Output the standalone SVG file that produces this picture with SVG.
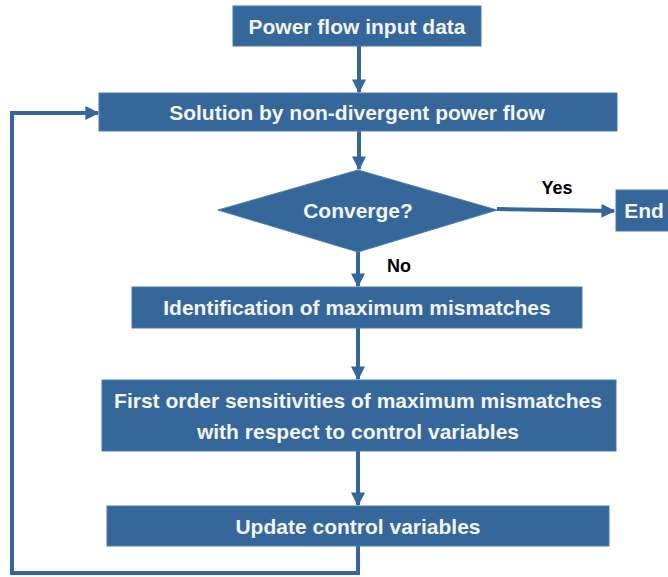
<svg xmlns="http://www.w3.org/2000/svg" width="668" height="577" viewBox="0 0 668 577">
<defs>
<style>
.box{fill:#35679a;stroke:#4a7bb0;stroke-width:1}
.t{font-family:"Liberation Sans",Arial,sans-serif;font-weight:bold;font-size:21px;fill:#f4f4f4;text-anchor:middle;dominant-baseline:central}
.lbl{font-family:"Liberation Sans",Arial,sans-serif;font-weight:bold;font-size:18px;fill:#000;text-anchor:middle;dominant-baseline:central}
.c{fill:none;stroke:#35679a;stroke-width:4}
</style>
<marker id="ah" viewBox="0 0 10 10" refX="9" refY="5" markerWidth="3.5" markerHeight="3.5" markerUnits="strokeWidth" orient="auto">
<path d="M0,0 L10,5 L0,10 Z" fill="#35679a"/>
</marker>
</defs>
<g id="connectors">
<path class="c" d="M359,46 V92" marker-end="url(#ah)"/>
<path class="c" d="M359,131 V169" marker-end="url(#ah)"/>
<path class="c" d="M497,209 L614,211" marker-end="url(#ah)"/>
<path class="c" d="M358,252 V286" marker-end="url(#ah)"/>
<path class="c" d="M358,328 V379" marker-end="url(#ah)"/>
<path class="c" d="M358,451 V505" marker-end="url(#ah)"/>
<path class="c" d="M358,546 V573 H12 V113 H98" marker-end="url(#ah)"/>
</g>
<g id="n1"><rect class="box" x="233" y="6" width="248" height="40"/><text class="t" x="357" y="26">Power flow input data</text></g>
<g id="n2"><rect class="box" x="99" y="93" width="518" height="38"/><text class="t" x="357" y="112">Solution by non-divergent power flow</text></g>
<g id="n3"><polygon class="box" points="358,170 497,210 358,252 218,210"/><text class="t" x="358" y="210">Converge?</text></g>
<g id="n4"><rect class="box" x="616" y="190" width="56" height="41"/><text class="t" x="644" y="210">End</text></g>
<g id="n5"><rect class="box" x="132" y="287" width="450" height="41"/><text class="t" x="357" y="307">Identification of maximum mismatches</text></g>
<g id="n6"><rect class="box" x="102" y="380" width="514" height="71"/><text class="t" x="358" y="400">First order sensitivities of maximum mismatches</text><text class="t" x="358" y="431">with respect to control variables</text></g>
<g id="n7"><rect class="box" x="107" y="506" width="502" height="40"/><text class="t" x="358" y="526">Update control variables</text></g>
<text class="lbl" x="557" y="188">Yes</text>
<text class="lbl" x="399" y="266">No</text>
</svg>
